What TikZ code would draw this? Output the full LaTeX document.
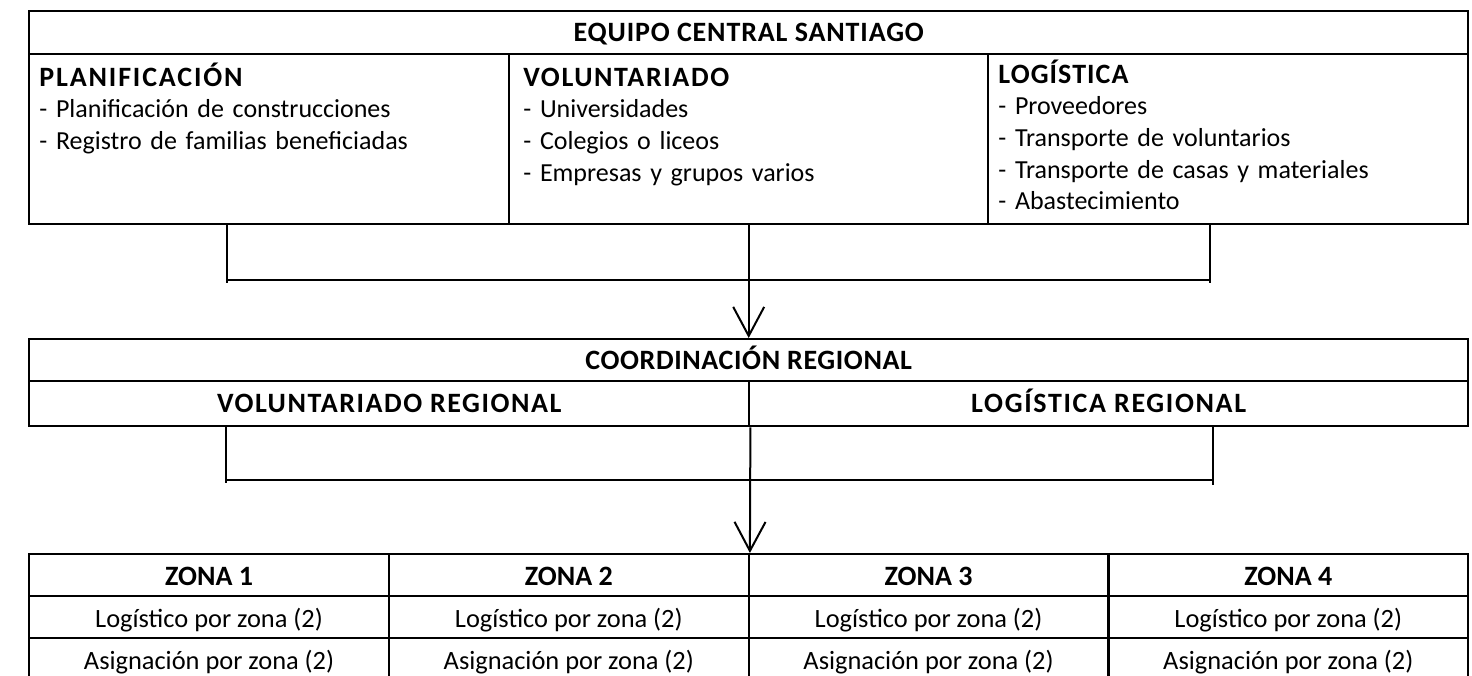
\documentclass[tikz,border=0pt]{standalone}
\usepackage{fontspec}
\setmainfont{Carlito}
\usetikzlibrary{arrows.meta}
\newcommand\hdg[2]{{\fontsize{14}{15.85}\selectfont\bfseries\addfontfeature{LetterSpace=#1}#2}}
\begin{document}
\begin{tikzpicture}[x=0.5pt,y=-0.5pt,
  box/.style={draw, line width=1.2pt, rectangle, inner sep=0pt, anchor=north west},
  ttl/.style={font=\fontsize{14}{16}\selectfont\bfseries\addfontfeature{LetterSpace=#1}, text height=9.8pt, text depth=1pt},
  ttl/.default=4,
  coltxt/.style={anchor=base west, inner sep=0pt, text width=225pt, align=left, font=\fontsize{13}{15.85}\selectfont},
  cell/.style={box, minimum width=179.875pt, minimum height=21pt, text height=11.5pt, text depth=0.8pt},
  conn/.style={line width=1pt},
  arr/.style={conn, -{Straight Barb[length=14.5pt,width=15.5pt]}},
]
\useasboundingbox (0,0) rectangle (1472,675);
\clip (0,0) rectangle (1472,675);

% --- Equipo central
\node[box, ttl=3.1, minimum width=719.5pt, minimum height=21.5pt] (ecs) at (28,10) {EQUIPO CENTRAL SANTIAGO};
\node[box, minimum width=240pt, minimum height=85pt] (plan) at (28,53) {};
\node[box, minimum width=239.5pt, minimum height=85pt] (vol) at (508,53) {};
\node[box, minimum width=240pt, minimum height=85pt] (log) at (987,53) {};
\node[coltxt] (planT) at (39,86) {\hdg{6.6}{PLANIFICACIÓN}\\- Planificación de construcciones\\- Registro de familias beneficiadas};
\node[coltxt] (volT) at (523,86) {\hdg{5.7}{VOLUNTARIADO}\\- Universidades\\- Colegios o liceos\\- Empresas y grupos varios};
\node[coltxt] (logT) at (998,83) {\hdg{3.8}{LOGÍSTICA}\\- Proveedores\\- Transporte de voluntarios\\- Transporte de casas y materiales\\- Abastecimiento};

% --- Coordinación regional
\node[box, ttl=2.2, minimum width=719.5pt, minimum height=21pt] (coord) at (28,338) {COORDINACIÓN REGIONAL};
\node[box, ttl=5.5, minimum width=360pt, minimum height=22.5pt] (volreg) at (28,380) {VOLUNTARIADO REGIONAL};
\node[box, ttl=5.9, minimum width=359.5pt, minimum height=22.5pt] (logreg) at (748,380) {LOGÍSTICA REGIONAL};

% --- Zonas
\foreach \i in {1,...,4} {
  \pgfmathsetmacro\xx{28+(\i-1)*359.75}
  \node[cell, font=\fontsize{14}{15}\selectfont\bfseries] (zh\i) at (\xx,553) {ZONA \i};
  \node[cell, font=\fontsize{13.2}{15}\selectfont] (za\i) at (\xx,595) {Logístico por zona (2)};
  \node[cell, font=\fontsize{13.2}{15}\selectfont] (zb\i) at (\xx,637) {Asignación por zona (2)};
}

% --- Bracket 1
\coordinate (b1l) at (227,283);
\coordinate (b1r) at (1210,283);
\coordinate (h1l) at (227,280);
\coordinate (h1r) at (1210,280);
\draw[conn] (plan.south -| b1l) -- (b1l);
\draw[conn] (log.south -| b1r) -- (b1r);
\draw[conn] (h1l) -- (h1r);
\draw[arr] (vol.south) -- (coord.north);

% --- Bracket 2
\coordinate (b2l) at (226,483);
\coordinate (b2r) at (1213,485);
\coordinate (h2l) at (226,480);
\coordinate (h2r) at (1213,480);
\draw[conn] (volreg.south -| b2l) -- (b2l);
\draw[conn] (logreg.south -| b2r) -- (b2r);
\draw[conn] (h2l) -- (h2r);
\draw[arr] (volreg.south east) -- (zh2.north east);
\end{tikzpicture}
\end{document}
